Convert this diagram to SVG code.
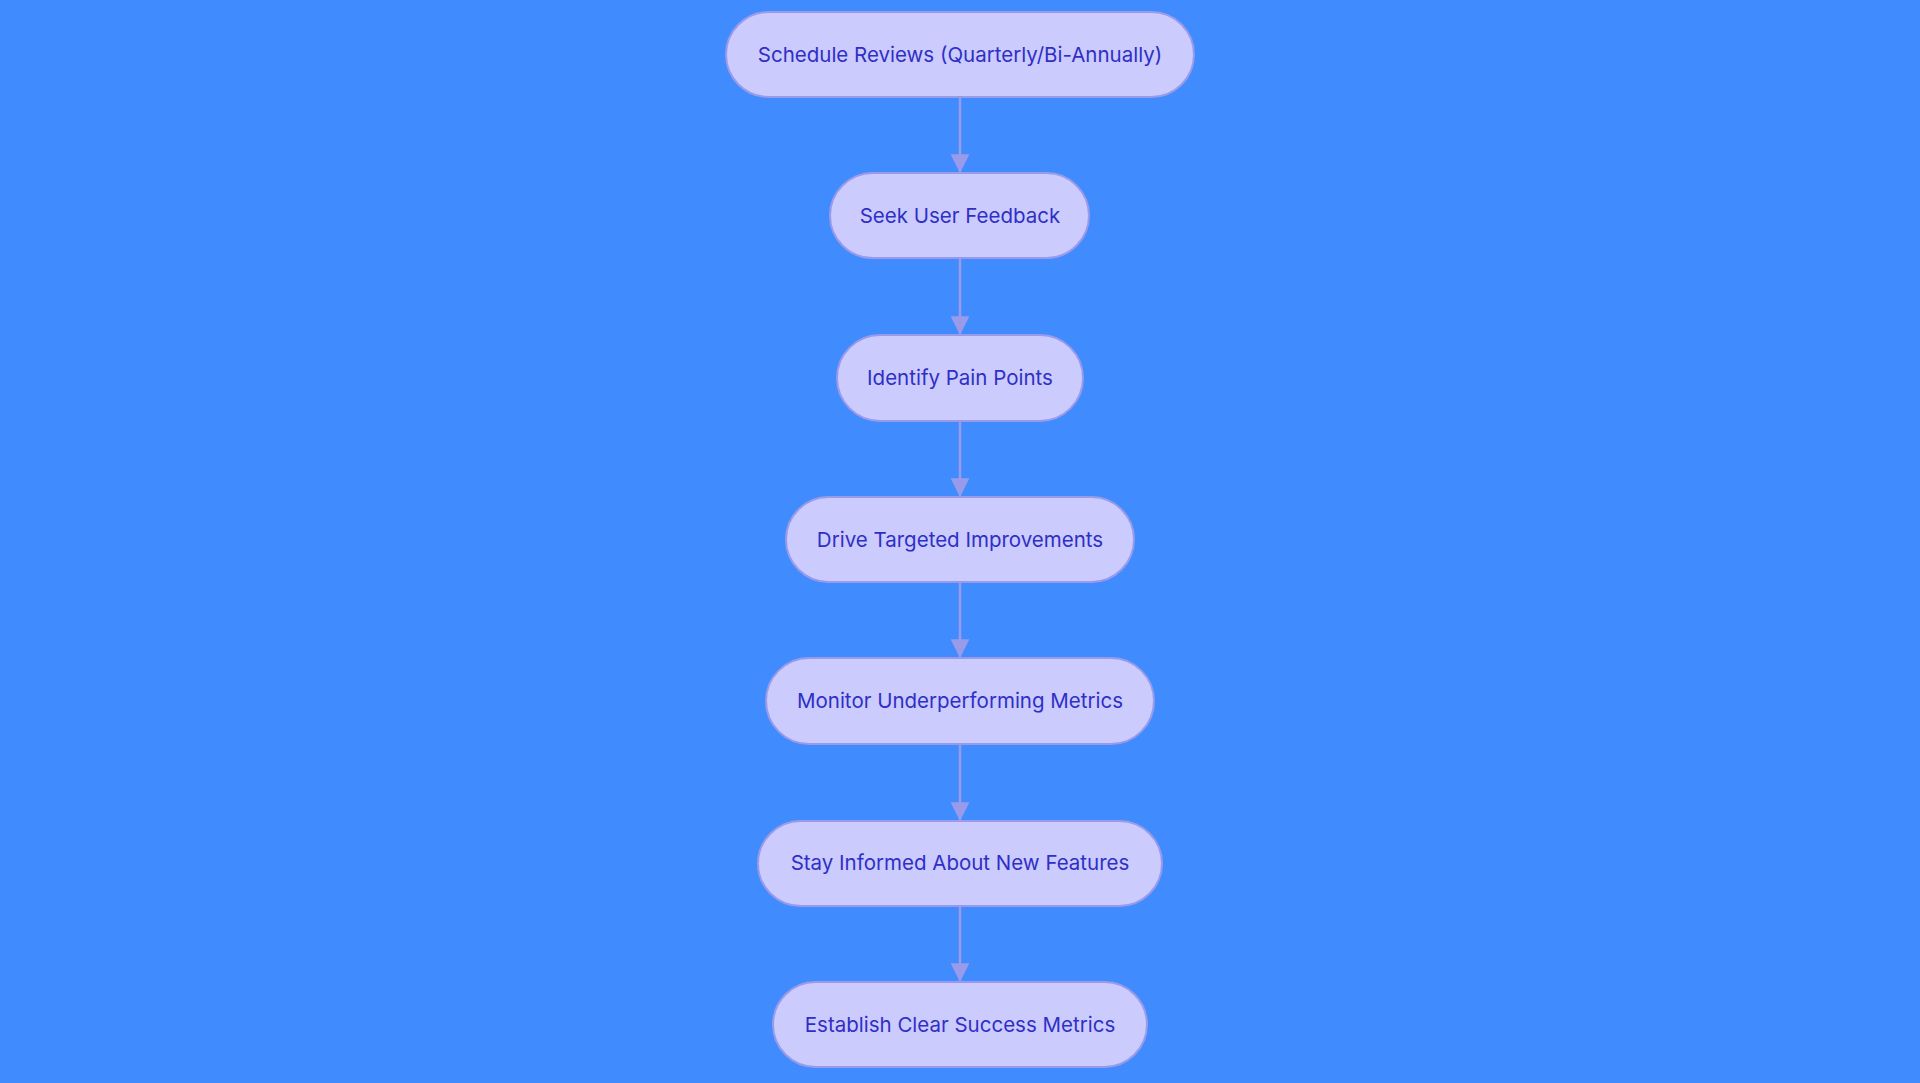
<svg xmlns="http://www.w3.org/2000/svg" width="1920" height="1083" viewBox="0 0 1920 1083">
<style>
.node rect{fill:#CBCBFD;stroke:#9A9AEA;stroke-width:2}
.node text{font-family:Inter,"Noto Sans",sans-serif;font-size:20.5px;fill:#2F2FC6;text-anchor:middle;dominant-baseline:central}
.edge{stroke:#9A9AEA;stroke-width:2.5;fill:none}
</style>
<defs>
<marker id="arr" viewBox="0 0 10 10" refX="10" refY="5" markerWidth="7.5" markerHeight="7.5" markerUnits="strokeWidth" orient="auto">
<path d="M0,0L10,5L0,10z" fill="#9A9AEA"/>
</marker>
</defs>
<rect width="1920" height="1083" fill="#408CFF"/>
<g id="connectors">
<line class="edge" x1="960" y1="97" x2="960" y2="173" marker-end="url(#arr)"/>
<line class="edge" x1="960" y1="258" x2="960" y2="335" marker-end="url(#arr)"/>
<line class="edge" x1="960" y1="421" x2="960" y2="497" marker-end="url(#arr)"/>
<line class="edge" x1="960" y1="582" x2="960" y2="658" marker-end="url(#arr)"/>
<line class="edge" x1="960" y1="744" x2="960" y2="821" marker-end="url(#arr)"/>
<line class="edge" x1="960" y1="906" x2="960" y2="982" marker-end="url(#arr)"/>
</g>
<g id="n1" class="node"><rect x="726" y="12" width="468" height="85" rx="42.5"/><text x="960" y="54">Schedule Reviews (Quarterly/Bi-Annually)</text></g>
<g id="n2" class="node"><rect x="830" y="173" width="259" height="85" rx="42.5"/><text x="960" y="215.5">Seek User Feedback</text></g>
<g id="n3" class="node"><rect x="837" y="335" width="246" height="86" rx="43"/><text x="960" y="377.5">Identify Pain Points</text></g>
<g id="n4" class="node"><rect x="786" y="497" width="348" height="85" rx="42.5"/><text x="960" y="539">Drive Targeted Improvements</text></g>
<g id="n5" class="node"><rect x="766" y="658" width="388" height="86" rx="43"/><text x="960" y="700.5">Monitor Underperforming Metrics</text></g>
<g id="n6" class="node"><rect x="758" y="821" width="404" height="85" rx="42.5"/><text x="960" y="862.5">Stay Informed About New Features</text></g>
<g id="n7" class="node"><rect x="773" y="982" width="374" height="85" rx="42.5"/><text x="960" y="1024">Establish Clear Success Metrics</text></g>
</svg>
